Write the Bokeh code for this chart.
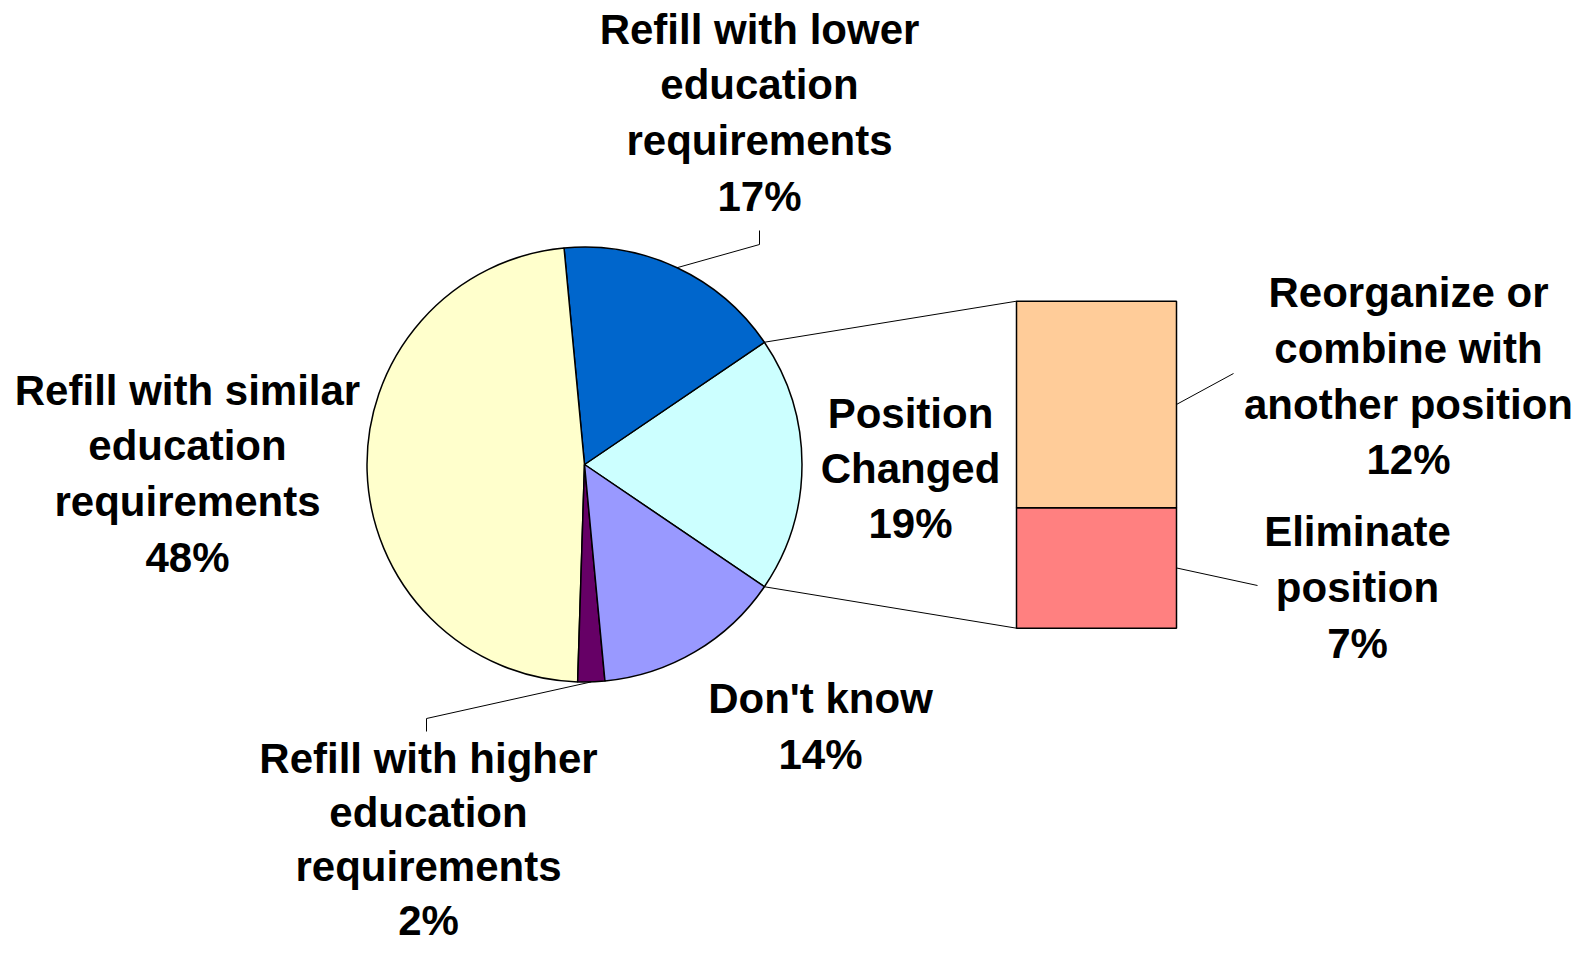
import numpy as np
from bokeh.plotting import figure
from bokeh.models import Range1d, ColumnDataSource
from bokeh.core.properties import value
from bokeh.embed import file_html
from bokeh.resources import INLINE

# ---------------- data ----------------
pie_categories = ["Position Changed",
                  "Refill with lower education requirements",
                  "Refill with similar education requirements",
                  "Refill with higher education requirements",
                  "Don't know"]
pie_values = [19, 17, 48, 2, 14]
pie_label_lines = [["Position", "Changed"],
                   ["Refill with lower", "education", "requirements"],
                   ["Refill with similar", "education", "requirements"],
                   ["Refill with higher", "education", "requirements"],
                   ["Don't know"]]

bar_categories = ["Eliminate position",
                  "Reorganize or combine with another position"]
bar_values = [7, 12]
bar_label_lines = [["Eliminate", "position"],
                   ["Reorganize or", "combine with", "another position"]]

# ---------------- styles / layout ----------------
pie_colors = ["#CCFFFF", "#0066CC", "#FFFFCC", "#660066", "#9999FF"]
bar_colors = ["#FF8080", "#FFCC99"]

W_FIG, H_FIG = 1575, 943
H_REF = 959
def Y(py):
    return H_REF - py

CX, CY, R = 584.0, Y(464.0), 217.5
BAR_L, BAR_R = 1016.0, 1176.0
BAR_BOT, BAR_TOP = Y(627.7), Y(300.7)

FONT = value("Liberation Sans")
FSIZE = "42px"

# (center x, first line y, line pitch)
pie_label_pos = [(910, 413, 55), (759, 28.5, 55.8), (187, 389.6, 55.8),
                 (428, 758, 54), (820, 698, 55.8)]
bar_label_pos = [(1357, 531, 55.8), (1408, 292, 55.8)]
pie_leader_elbows = {1: [(759, 244), (759, 230)], 3: [(426, 718), (426, 731)]}
bar_leader_ends = {0: [(1257, 585)], 1: [(1233, 373)]}

# ---------------- figure ----------------
p = figure(width=W_FIG, height=H_FIG,
           x_range=Range1d(0, W_FIG), y_range=Range1d(H_REF - H_FIG, H_REF),
           output_backend="svg", toolbar_location=None, min_border=0,
           x_axis_location=None, y_axis_location=None)
p.grid.visible = False
p.outline_line_color = None
p.background_fill_color = "white"
p.border_fill_color = "white"

total = float(sum(pie_values))

# pie wedges
fracs = np.array(pie_values) / total
starts = -np.pi * fracs[0] + 2 * np.pi * np.concatenate([[0], np.cumsum(fracs)[:-1]])
ends = starts + 2 * np.pi * fracs
pie_src = ColumnDataSource(dict(start=starts, end=ends, color=pie_colors,
                                cat=pie_categories))
p.wedge(x=CX, y=CY, radius=R, start_angle="start", end_angle="end",
        fill_color="color", line_color="black", line_width=1.5, source=pie_src)

# bar (own value scale mapped onto the bar's pixel extent)
bar_sum = float(sum(bar_values))
k = bar_sum / (BAR_TOP - BAR_BOT)
p.extra_y_ranges = {"bar": Range1d((H_REF - H_FIG - BAR_BOT) * k, (H_REF - BAR_BOT) * k)}
bar_bottoms = np.concatenate([[0], np.cumsum(bar_values)[:-1]])
bar_tops = np.cumsum(bar_values)
bar_src = ColumnDataSource(dict(bottom=bar_bottoms, top=bar_tops, color=bar_colors,
                                cat=bar_categories))
p.vbar(x=(BAR_L + BAR_R) / 2, width=BAR_R - BAR_L, bottom="bottom", top="top",
       fill_color="color", line_color="black", line_width=1.5,
       y_range_name="bar", source=bar_src)

# connector lines pie -> bar
a0, a1 = starts[0], ends[0]
p.line([CX + R * np.cos(a1), BAR_L], [CY + R * np.sin(a1), BAR_BOT + bar_sum / k],
       line_color="black", line_width=1)
p.line([CX + R * np.cos(a0), BAR_L], [CY + R * np.sin(a0), BAR_BOT],
       line_color="black", line_width=1)

# leader lines
for i, pts in pie_leader_elbows.items():
    mid = (starts[i] + ends[i]) / 2
    xs = [CX + R * np.cos(mid)] + [q[0] for q in pts]
    ys = [CY + R * np.sin(mid)] + [Y(q[1]) for q in pts]
    p.line(xs, ys, line_color="black", line_width=1)
for i, pts in bar_leader_ends.items():
    ymid = BAR_BOT + (bar_bottoms[i] + bar_tops[i]) / 2 / k
    xs = [BAR_R] + [q[0] for q in pts]
    ys = [ymid] + [Y(q[1]) for q in pts]
    p.line(xs, ys, line_color="black", line_width=1)

# labels
tx, ty, tt = [], [], []
def add_label(lines, pos):
    x0, y0, pitch = pos
    for j, s in enumerate(lines):
        tx.append(x0)
        ty.append(Y(y0 + j * pitch))
        tt.append(s)

for lines, v, pos in zip(pie_label_lines, pie_values, pie_label_pos):
    add_label(lines + [f"{v / total * 100:.0f}%"], pos)
for lines, v, pos in zip(bar_label_lines, bar_values, bar_label_pos):
    add_label(lines + [f"{v / total * 100:.0f}%"], pos)

p.text(x="x", y="y", text="text", source=ColumnDataSource(dict(x=tx, y=ty, text=tt)),
       text_font=FONT, text_font_style="bold", text_font_size=FSIZE,
       text_align="center", text_baseline="alphabetic", text_color="black")

open("out.html", "w").write(file_html(p, INLINE))
